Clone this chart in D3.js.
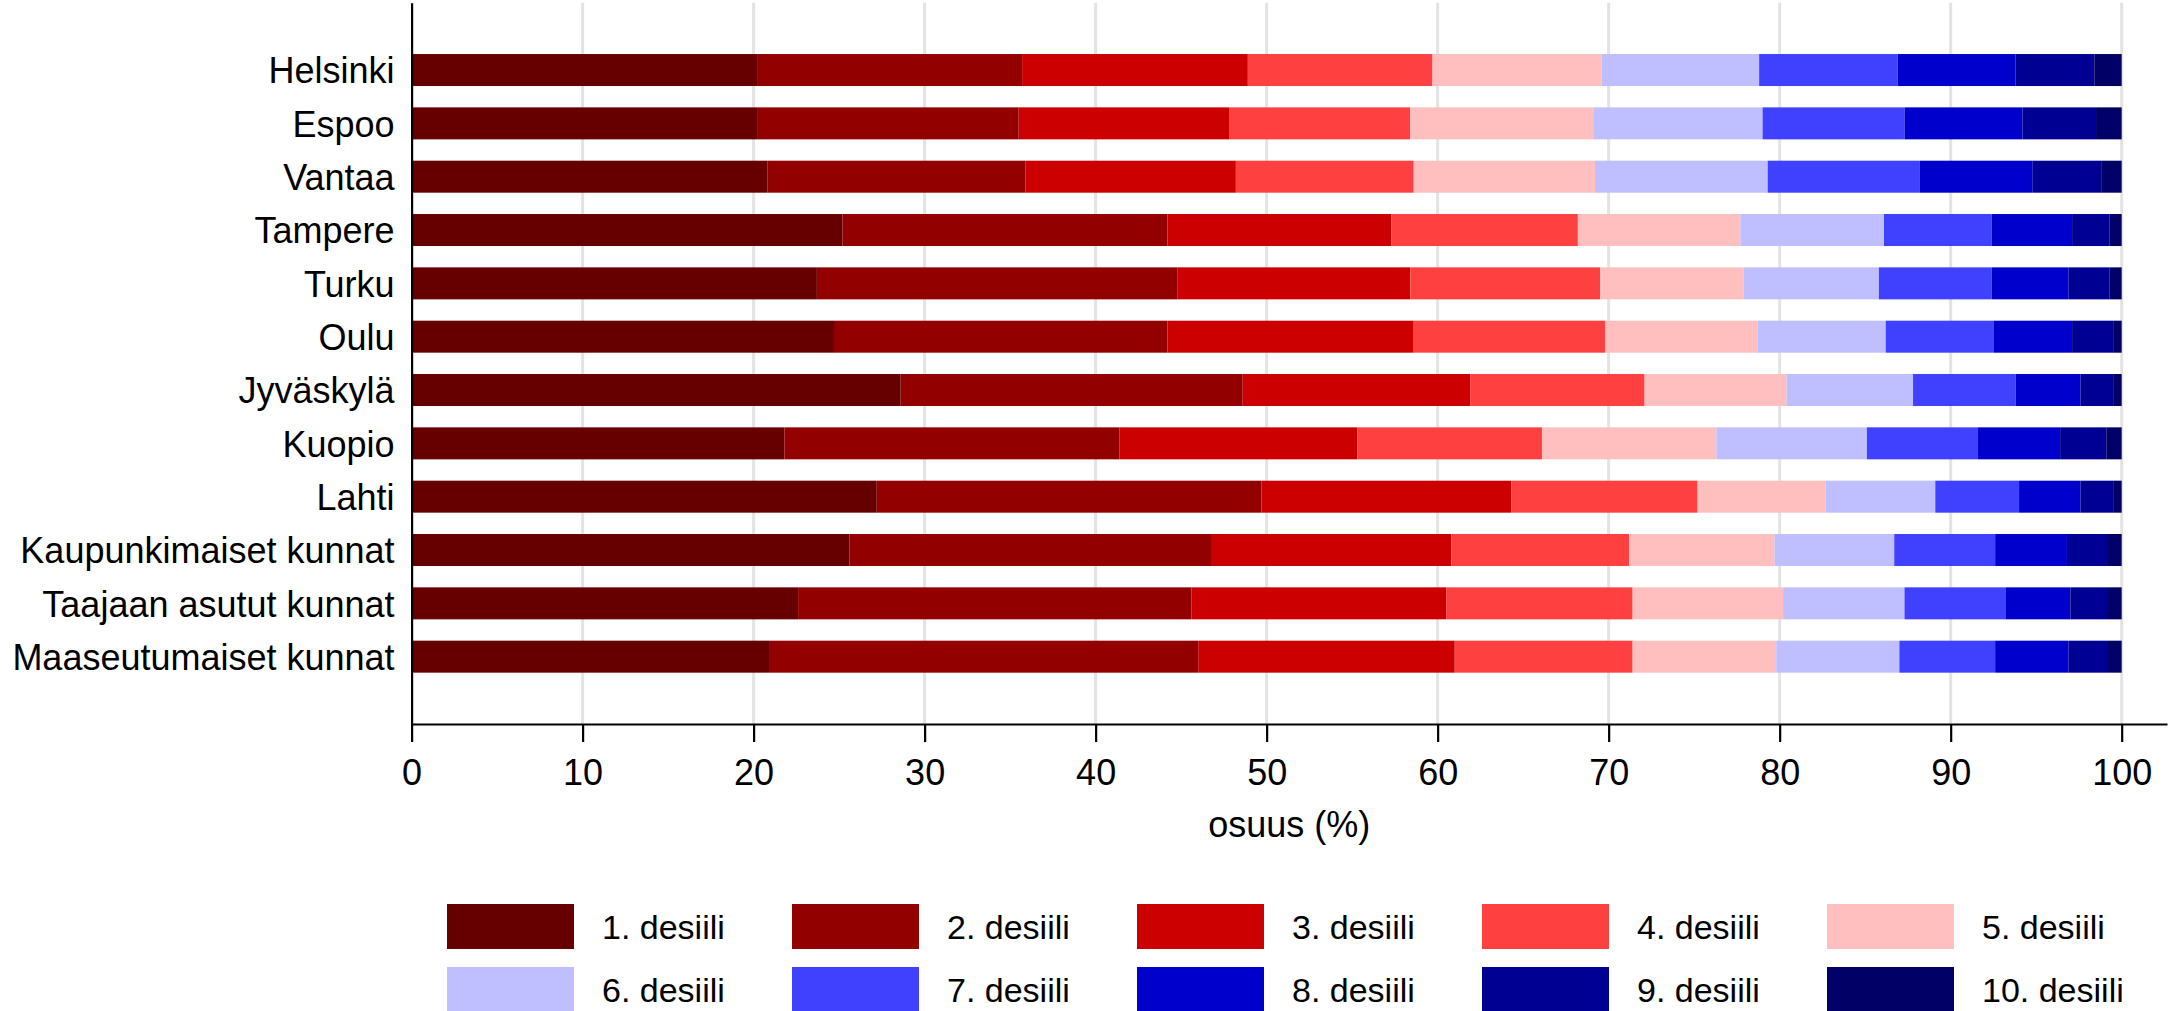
<!DOCTYPE html>
<html>
<head>
<meta charset="utf-8">
<script src="https://cdn.jsdelivr.net/npm/d3@7"></script>
<style>
  html, body { margin: 0; padding: 0; background: #ffffff; }
  svg { display: block; }
  text { font-family: "Liberation Sans", Arial, sans-serif; fill: #000; }
</style>
</head>
<body>
<svg id="chart" width="2178" height="1011"></svg>
<script>
// Alueet (ylhäältä alas)
const categories = [
  "Helsinki", "Espoo", "Vantaa", "Tampere", "Turku", "Oulu", "Jyväskylä",
  "Kuopio", "Lahti", "Kaupunkimaiset kunnat", "Taajaan asutut kunnat", "Maaseutumaiset kunnat"
];

// Tulodesiilien osuudet (%) alueittain
const desiili1  = [20.2, 20.2, 20.8, 25.2, 23.7, 24.7, 28.6, 21.8, 27.2, 25.6, 22.6, 20.9];
const desiili2  = [15.5, 15.3, 15.1, 19.0, 21.1, 19.5, 20.0, 19.6, 22.5, 21.2, 23.0, 25.1];
const desiili3  = [13.2, 12.3, 12.3, 13.1, 13.6, 14.4, 13.3, 13.9, 14.6, 14.0, 14.9, 15.0];
const desiili4  = [10.8, 10.6, 10.4, 10.9, 11.1, 11.2, 10.2, 10.8, 10.9, 10.4, 10.9, 10.4];
const desiili5  = [ 9.9, 10.7, 10.6,  9.5,  8.4,  8.9,  8.3, 10.2,  7.5,  8.5,  8.8,  8.4];
const desiili6  = [ 9.2,  9.9, 10.1,  8.4,  7.9,  7.5,  7.4,  8.8,  6.4,  7.0,  7.1,  7.2];
const desiili7  = [ 8.1,  8.3,  8.9,  6.3,  6.6,  6.3,  6.0,  6.5,  4.9,  5.9,  5.9,  5.6];
const desiili8  = [ 6.9,  6.9,  6.6,  4.7,  4.5,  4.6,  3.8,  4.8,  3.6,  4.2,  3.8,  4.3];
const desiili9  = [ 4.6,  4.3,  4.0,  2.2,  2.4,  2.4,  1.9,  2.7,  1.9,  2.4,  2.2,  2.3];
const desiili10 = [ 1.6,  1.5,  1.2,  0.7,  0.7,  0.5,  0.5,  0.9,  0.5,  0.8,  0.8,  0.8];

const decileNames = ["1. desiili", "2. desiili", "3. desiili", "4. desiili", "5. desiili",
                     "6. desiili", "7. desiili", "8. desiili", "9. desiili", "10. desiili"];
const decileColors = ["#660000", "#930000", "#cc0000", "#ff4040", "#ffbfbf",
                      "#bfbfff", "#4040ff", "#0000cc", "#000093", "#000066"];

const xTicks = [0, 10, 20, 30, 40, 50, 60, 70, 80, 90, 100];
const xTitle = "osuus (%)";

// Taulukko pinottavaksi
const series = [desiili1, desiili2, desiili3, desiili4, desiili5,
                desiili6, desiili7, desiili8, desiili9, desiili10];
const rows = categories.map((c, i) => {
  const r = { alue: c };
  decileNames.forEach((k, j) => { r[k] = series[j][i]; });
  return r;
});

const svg = d3.select("#chart");
const plotLeft = 411.6, plotTop = 2.7, plotBottom = 724, axisRight = 2167;

const x = d3.scaleLinear().domain([0, 102.65]).range([plotLeft, axisRight]);
const y = d3.scaleBand().domain(categories).range([plotTop, plotBottom])
  .paddingInner(0.4).paddingOuter(0.9625);
const color = d3.scaleOrdinal().domain(decileNames).range(decileColors);

// Pystysuorat apuviivat
svg.append("g").selectAll("line")
  .data(xTicks.filter(t => t > 0))
  .join("line")
  .attr("x1", d => x(d)).attr("x2", d => x(d))
  .attr("y1", plotTop).attr("y2", plotBottom)
  .attr("stroke", "#e3e3e3").attr("stroke-width", 3);

// Pinotut palkit
const stacked = d3.stack().keys(decileNames)(rows);
svg.append("g").selectAll("g")
  .data(stacked)
  .join("g")
  .attr("fill", d => color(d.key))
  .selectAll("rect")
  .data(d => d)
  .join("rect")
  .attr("x", d => x(d[0]))
  .attr("width", d => x(d[1]) - x(d[0]))
  .attr("y", d => y(d.data.alue))
  .attr("height", y.bandwidth());

// X-akseli
const xAxis = svg.append("g")
  .attr("transform", `translate(0,${plotBottom})`)
  .call(d3.axisBottom(x).tickValues(xTicks).tickSize(18).tickSizeOuter(0).tickPadding(17));
xAxis.selectAll("path, line").attr("stroke", "#000").attr("stroke-width", 2.2);
xAxis.selectAll("text").attr("font-size", 36).style("font-family", "'Liberation Sans', Arial, sans-serif");

// Y-akseli
const yAxis = svg.append("g")
  .attr("transform", `translate(${plotLeft},0)`)
  .call(d3.axisLeft(y).tickSize(0).tickSizeOuter(0).tickPadding(17));
yAxis.select(".domain").attr("stroke", "#000").attr("stroke-width", 2.2);
yAxis.selectAll("text").attr("font-size", 36).attr("dy", "0.37em")
  .style("font-family", "'Liberation Sans', Arial, sans-serif");

// Akselin otsikko
svg.append("text")
  .attr("x", (plotLeft + axisRight) / 2)
  .attr("y", 837)
  .attr("text-anchor", "middle")
  .attr("font-size", 36)
  .text(xTitle);

// Selite: kaksi riviä, viisi saraketta
const legend = svg.append("g");
const legendItems = legend.selectAll("g")
  .data(decileNames)
  .join("g")
  .attr("transform", (d, i) => `translate(${447 + (i % 5) * 345},${904 + Math.floor(i / 5) * 63})`);
legendItems.append("rect")
  .attr("width", 127).attr("height", 45)
  .attr("fill", d => color(d));
legendItems.append("text")
  .attr("x", 155).attr("y", 22.5).attr("dy", "0.36em")
  .attr("font-size", 34)
  .text(d => d);
</script>
</body>
</html>
